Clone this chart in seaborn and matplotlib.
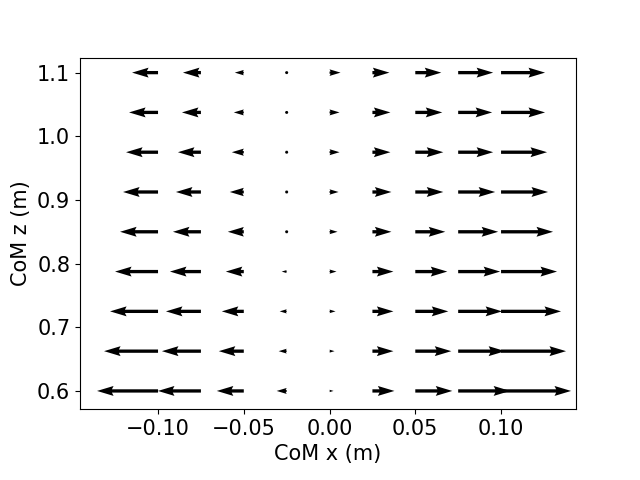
import numpy as np
import matplotlib
matplotlib.use("Agg")
import matplotlib.pyplot as plt
import seaborn as sns

# Grid of CoM positions
com_x = [-0.1, -0.075, -0.05, -0.025, 0.0, 0.025, 0.05, 0.075, 0.1]
com_z = [0.6, 0.6625, 0.725, 0.7875, 0.85, 0.9125, 0.975, 1.0375, 1.1]

# Horizontal arrow components (rows follow com_z)
u_z060 = [-61, -43, -27, -10, 4, 22, 37, 52, 70]
u_z066 = [-54, -39, -25, -8, 5, 21, 36, 47, 65]
u_z073 = [-48, -35, -22, -7, 6, 21, 33, 44, 60]
u_z079 = [-43, -31, -18, -5, 7, 21, 32, 42, 56]
u_z085 = [-38, -28, -16, -3, 8, 19, 30, 40, 52]
u_z091 = [-35, -25, -14, -1, 9, 19, 28, 37, 47]
u_z098 = [-32, -23, -12, -1, 10, 18, 28, 35, 46]
u_z104 = [-29, -19, -10, -0.5, 10, 18, 27, 34, 44]
u_z110 = [-26, -18, -9, -0.5, 11, 17, 26, 35, 44]
# Vertical components (arrows are horizontal)
v_all = 0.0

sns.set_theme(style="ticks", rc={
    "axes.edgecolor": "black", "axes.linewidth": 0.8,
    "xtick.color": "black", "ytick.color": "black",
    "axes.labelcolor": "black", "text.color": "black",
    "xtick.major.size": 3.5, "ytick.major.size": 3.5,
    "xtick.major.width": 0.8, "ytick.major.width": 0.8,
})
plt.rcParams["font.family"] = ["DejaVu Sans"]

U = np.array([u_z060, u_z066, u_z073, u_z079, u_z085, u_z091, u_z098, u_z104, u_z110], dtype=float)
X, Z = np.meshgrid(com_x, com_z)
V = np.full_like(U, v_all)

fig, ax = plt.subplots(figsize=(6.4, 4.8), dpi=100)
fig.subplots_adjust(left=0.125, right=0.9, top=0.88, bottom=0.148)
ax.quiver(X, Z, U, V, angles="xy", scale_units="xy", scale=1715, color="black")
ax.set_xlim(-0.1455, 0.1437)
ax.set_ylim(0.5717, 1.1236)
ax.set_xticks([-0.10, -0.05, 0.00, 0.05, 0.10])
ax.set_yticks([0.6, 0.7, 0.8, 0.9, 1.0, 1.1])
ax.tick_params(labelsize=15)
ax.set_xlabel("CoM x (m)", fontsize=15)
ax.set_ylabel("CoM z (m)", fontsize=15)
fig.savefig("out.png", dpi=100)
